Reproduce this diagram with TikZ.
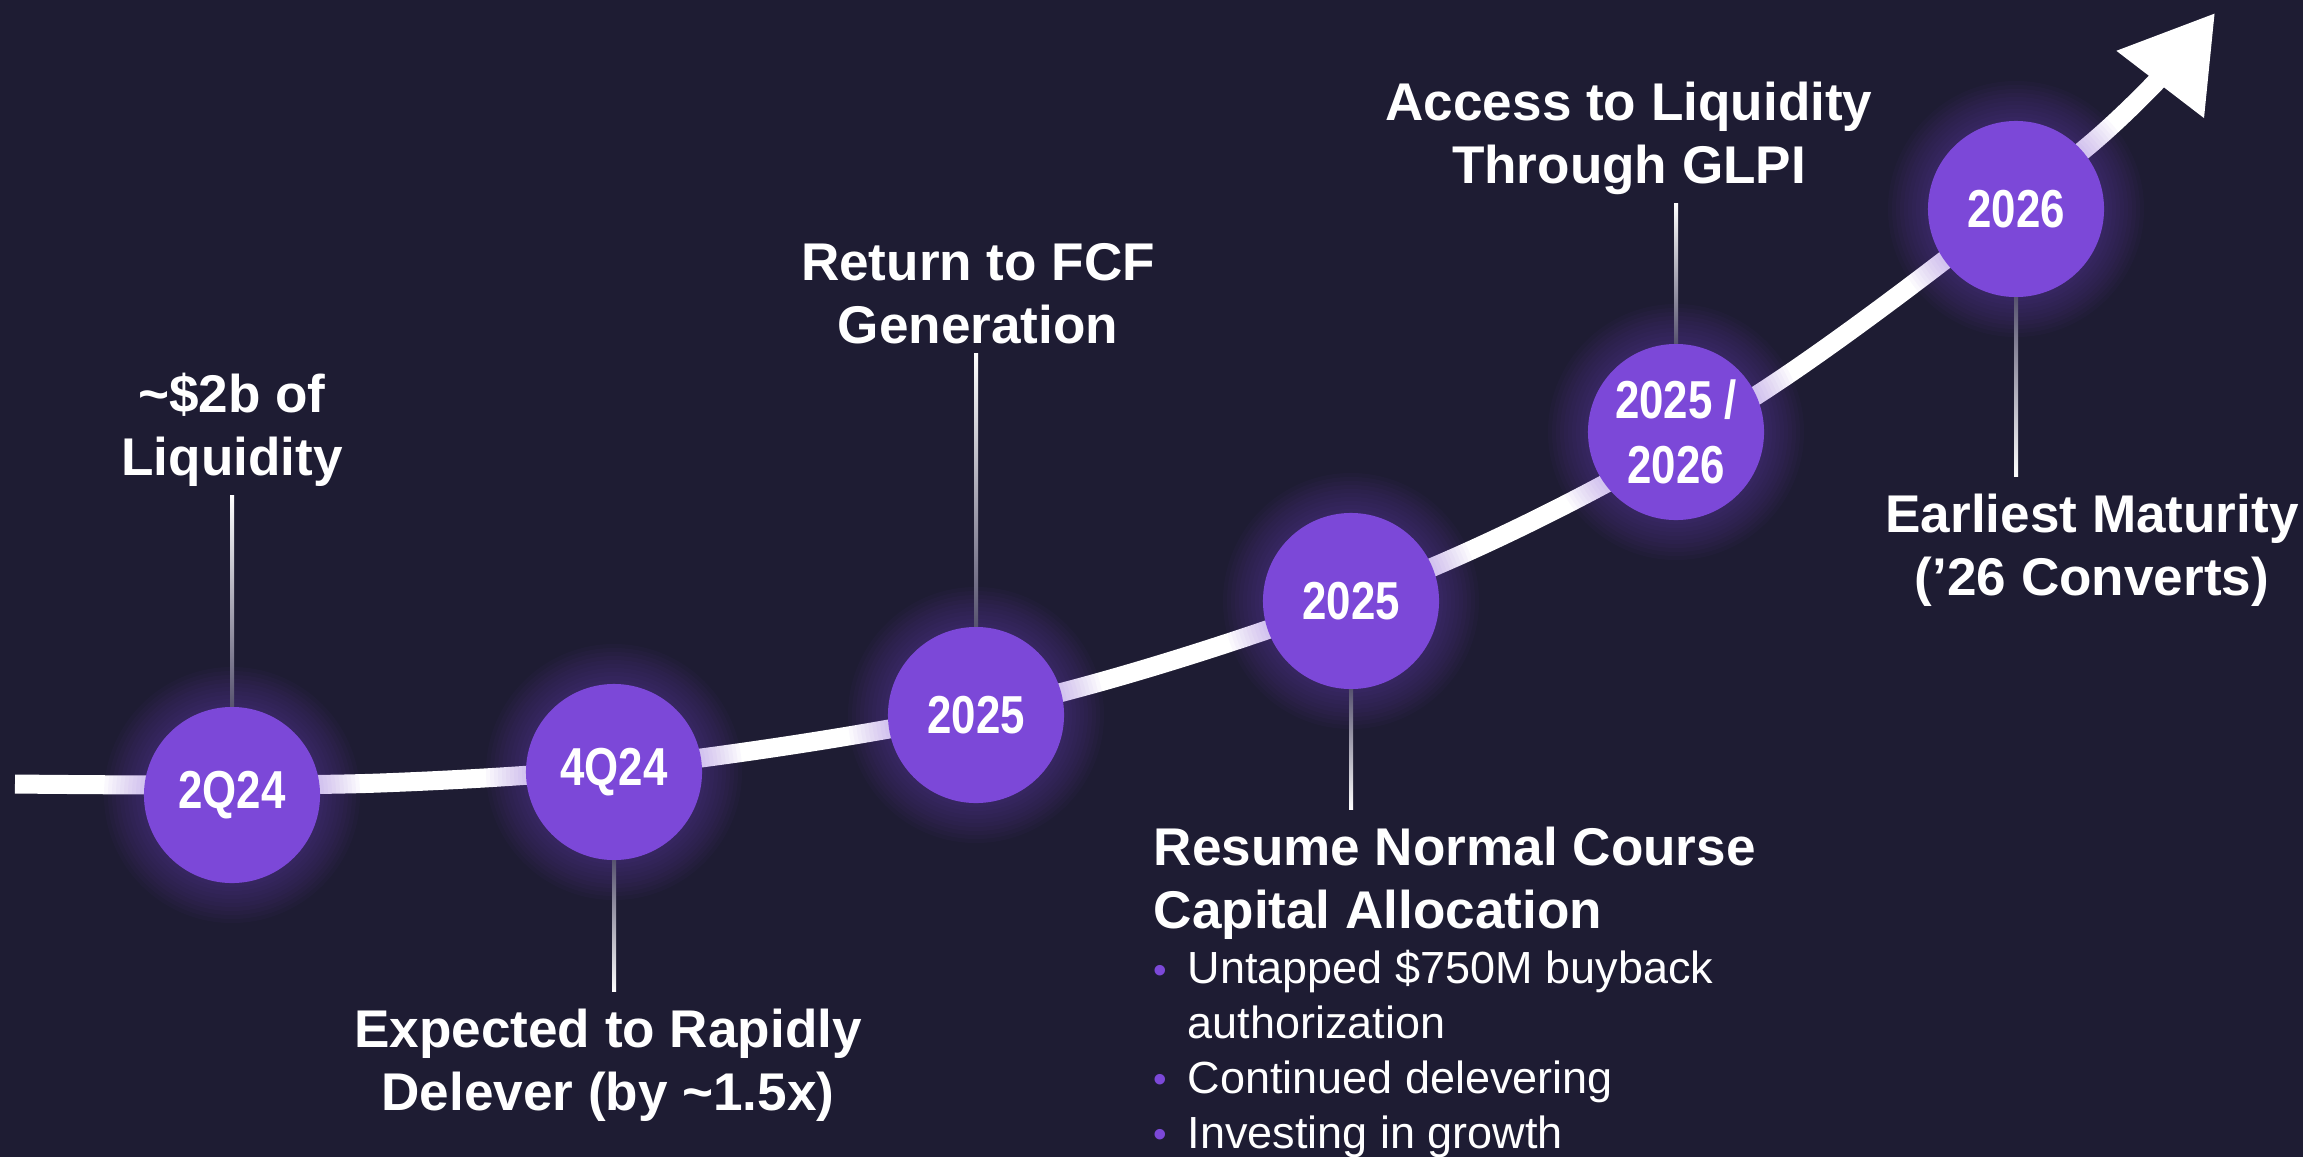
\documentclass[tikz,border=0pt]{standalone}
\usepackage{fontspec}
\setmainfont{Liberation Sans}
\newfontfamily\narrowfont{Liberation Sans}[FakeStretch=0.82]
\usepackage{xcolor}
\definecolor{bgnavy}{RGB}{30,28,51}
\definecolor{accent}{RGB}{124,72,216}
\definecolor{stem}{RGB}{88,84,112}
\usetikzlibrary{arrows.meta,calc}
\tikzset{
  year/.style={circle,fill=accent,minimum size=1.76cm,inner sep=0pt,%
    text=white,align=center,font=\narrowfont\bfseries\fontsize{15.2}{18.5}\selectfont},
  head/.style={text=white,align=center,anchor=base,inner xsep=0pt,%
    font=\bfseries\fontsize{15.1}{17.9}\selectfont},
  headup/.style={head,inner ysep=0.09cm},
  headdown/.style={head,inner ysep=0.16cm},
  bullets/.style={text=white,align=left,inner sep=0pt,%
    font=\fontsize{12.8}{15.55}\selectfont},
  track/.style={line width=0.19cm,draw=white,-{Triangle[length=0.9cm,width=1.05cm]}},
  glow/.style={fill=accent,opacity=0.035},
  stemup/.style={top color=white,bottom color=stem},
  stemdown/.style={top color=stem,bottom color=white},
}
\newcommand\blt{\makebox[0.34cm][l]{\raisebox{0.005cm}{\textcolor{accent}{\fontsize{11}{11}\selectfont\textbullet}}}}

\begin{document}
\begin{tikzpicture}[x=0.01cm,y=-0.01cm]
\fill[bgnavy] (0,0) rectangle (2303,1157);
\useasboundingbox (0,0) rectangle (2303,1157);

% stops along the track
\coordinate (p1) at (232,795);
\coordinate (p2) at (614,772);
\coordinate (p3) at (976,715);
\coordinate (p4) at (1351,601);
\coordinate (p5) at (1676,432);
\coordinate (p6) at (2016,209);

\draw[track] plot[smooth,tension=0.55] coordinates
  {(15,784) (380,783) (701,758) (1063,692) (1433,567) (1757,395) (2087,147) (2215,13)};

\foreach \p in {p1,p2,p3,p4,p5,p6}
  \foreach \k in {1,...,10}
    \fill[glow] (\p) circle ({88+4*\k});

\node[year] (q2) at (p1) {2Q24};
\node[year] (q4) at (p2) {4Q24};
\node[year] (y25a) at (p3) {2025};
\node[year] (y25b) at (p4) {2025};
\node[year] (y2526) at (p5) {2025 /\\2026};
\node[year] (y26) at (p6) {2026};

\node[headup] (liq) at (232,475) {\textasciitilde\$2b of\\Liquidity};
\node[headdown] (delev) at (608,1110) {Expected to Rapidly\\Delever (by \textasciitilde1.5x)};
\node[headup] (fcf) at (978,343) {Return to FCF\\Generation};
\node[headdown,anchor=base west,align=left] (norm) at (1153,928)
  {Resume Normal Course\\Capital Allocation};
\node[bullets,anchor=base west] (acts) at (1153,1148)
  {\blt Untapped \$750M buyback\\\hspace*{0.34cm}authorization\\\blt Continued delevering\\\blt Investing in growth};
\node[headup] (glpi) at (1629,183) {Access to Liquidity\\Through GLPI};
\node[headdown] (mat) at (2092,595) {Earliest Maturity\\(’26 Converts)};

% stems between stops and labels
\shade[stemup] ($(q2.north)+(-2,0)$) rectangle ($(q2.north |- liq.south)+(2,0)$);
\shade[stemdown] ($(q4.south)+(-2,0)$) rectangle ($(q4.south |- delev.north)+(2,0)$);
\shade[stemup] ($(y25a.north)+(-2,0)$) rectangle ($(y25a.north |- fcf.south)+(2,0)$);
\shade[stemdown] ($(y25b.south)+(-2,0)$) rectangle ($(y25b.south |- norm.north)+(2,0)$);
\shade[stemup] ($(y2526.north)+(-2,0)$) rectangle ($(y2526.north |- glpi.south)+(2,0)$);
\shade[stemdown] ($(y26.south)+(-2,0)$) rectangle ($(y26.south |- mat.north)+(2,0)$);
\end{tikzpicture}
\end{document}
